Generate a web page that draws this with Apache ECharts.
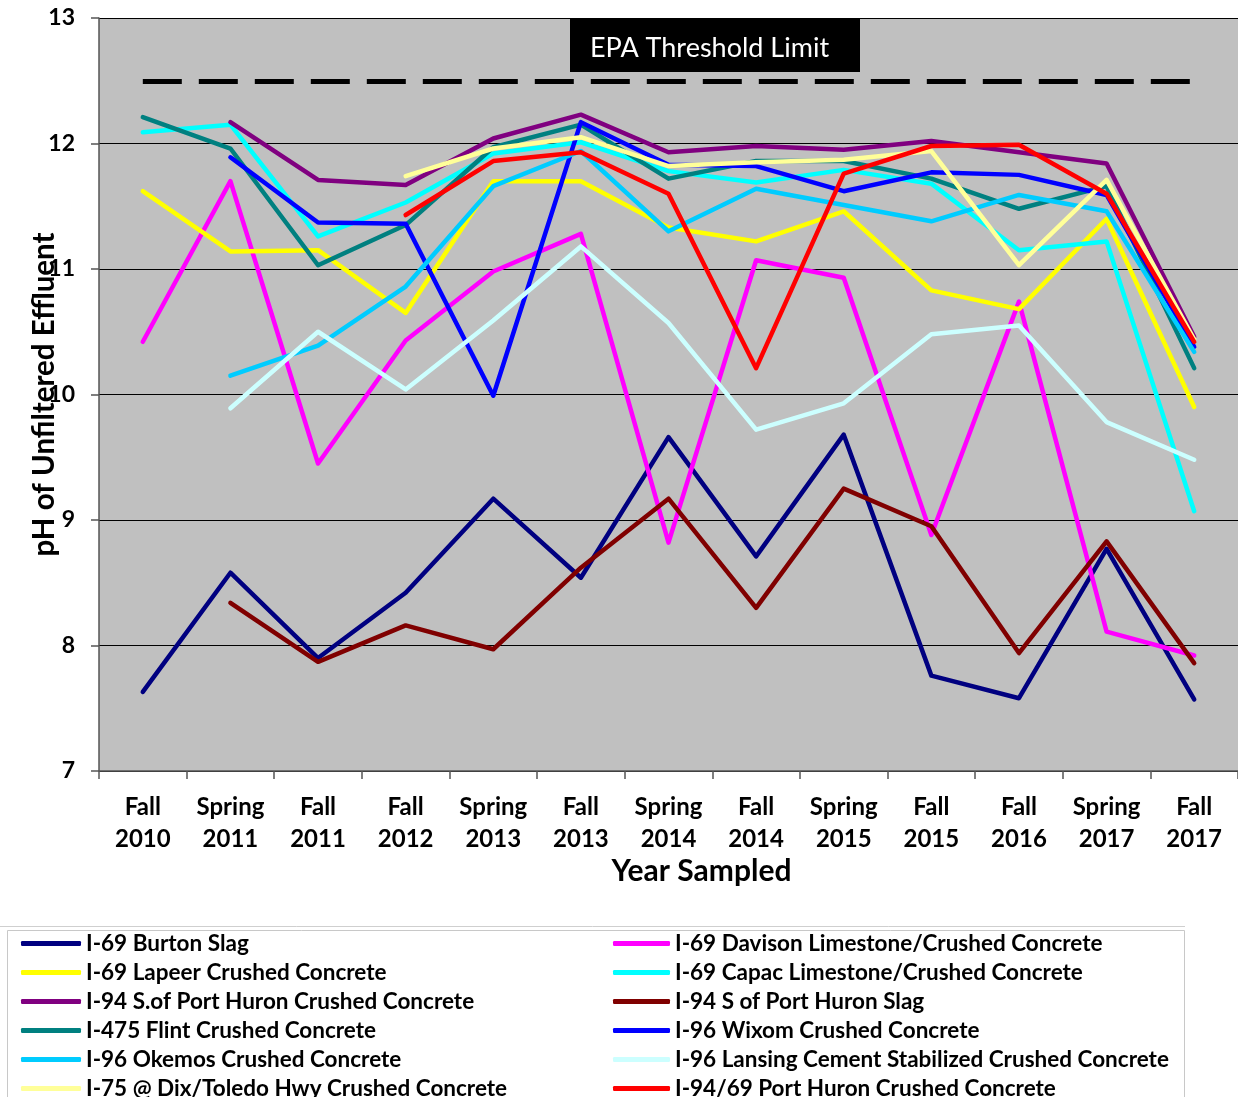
<!DOCTYPE html>
<html>
<head>
<meta charset="utf-8">
<script src="https://cdn.jsdelivr.net/npm/echarts@6/dist/echarts.min.js"></script>
<style>
html,body{margin:0;padding:0;background:#fff;}
#chart{width:1238px;height:1097px;}
</style>
</head>
<body>
<div id="chart"></div>
<script>
const categories = ['Fall\n2010','Spring\n2011','Fall\n2011','Fall\n2012','Spring\n2013','Fall\n2013','Spring\n2014','Fall\n2014','Spring\n2015','Fall\n2015','Fall\n2016','Spring\n2017','Fall\n2017'];

const burtonSlag = [7.63, 8.58, 7.90, 8.42, 9.17, 8.54, 9.66, 8.71, 9.68, 7.76, 7.58, 8.77, 7.57];
const davison    = [10.42, 11.70, 9.45, 10.43, 10.98, 11.28, 8.82, 11.07, 10.93, 8.88, 10.74, 8.11, 7.92];
const lapeer     = [11.62, 11.14, 11.15, 10.65, 11.70, 11.70, 11.33, 11.22, 11.46, 10.83, 10.68, 11.40, 9.90];
const capac      = [12.09, 12.15, 11.26, 11.53, 11.92, 12.01, 11.78, 11.69, 11.79, 11.68, 11.15, 11.22, 9.07];
const i94CC      = [null, 12.17, 11.71, 11.67, 12.04, 12.23, 11.93, 11.98, 11.95, 12.02, 11.93, 11.84, 10.46];
const i94Slag    = [null, 8.34, 7.87, 8.16, 7.97, 8.62, 9.17, 8.30, 9.25, 8.95, 7.94, 8.83, 7.86];
const flint      = [12.21, 11.96, 11.03, 11.35, 11.97, 12.15, 11.72, 11.86, 11.86, 11.72, 11.48, 11.66, 10.21];
const wixom      = [null, 11.89, 11.37, 11.36, 9.99, 12.17, 11.83, 11.82, 11.62, 11.77, 11.75, 11.59, 10.38];
const okemos     = [null, 10.15, 10.39, 10.86, 11.66, 11.94, 11.30, 11.64, 11.51, 11.38, 11.59, 11.46, 10.34];
const lansing    = [null, 9.89, 10.50, 10.04, 10.59, 11.18, 10.57, 9.72, 9.93, 10.48, 10.55, 9.78, 9.48];
const dixToledo  = [null, null, null, 11.74, 11.96, 12.05, 11.82, 11.85, 11.87, 11.94, 11.03, 11.71, 10.44];
const portHuron  = [null, null, null, 11.43, 11.86, 11.93, 11.60, 10.21, 11.76, 11.98, 11.99, 11.60, 10.42];

const epaLimit = 12.5;
const epaLabel = 'EPA Threshold Limit';

const seriesNames = [
  'I-69 Burton Slag',
  'I-69 Davison Limestone/Crushed Concrete',
  'I-69 Lapeer Crushed Concrete',
  'I-69 Capac Limestone/Crushed Concrete',
  'I-94 S.of Port Huron Crushed Concrete',
  'I-94 S of Port Huron Slag',
  'I-475 Flint Crushed Concrete',
  'I-96 Wixom Crushed Concrete',
  'I-96 Okemos Crushed Concrete',
  'I-96 Lansing Cement Stabilized Crushed Concrete',
  'I-75 @ Dix/Toledo Hwy Crushed Concrete',
  'I-94/69 Port Huron Crushed Concrete'
];
const seriesData = [burtonSlag, davison, lapeer, capac, i94CC, i94Slag, flint, wixom, okemos, lansing, dixToledo, portHuron];
const seriesColors = ['#000080','#FF00FF','#FFFF00','#00FFFF','#800080','#800000','#008080','#0000FF','#00CCFF','#CCFFFF','#FFFF99','#FF0000'];

const FONT = 'Lato';

const series = seriesNames.map((name, i) => ({
  name: name,
  type: 'line',
  data: seriesData[i],
  symbol: 'none',
  connectNulls: false,
  color: seriesColors[i],
  lineStyle: { width: 4.5, color: seriesColors[i], cap: 'round', join: 'round' },
  emphasis: { disabled: true },
  z: 3 + i
}));

series.push({
  name: 'EPA',
  type: 'line',
  data: [],
  silent: true,
  markLine: {
    silent: true,
    symbol: 'none',
    label: { show: false },
    lineStyle: { color: '#000', width: 5, type: [39, 17], cap: 'butt' },
    emphasis: { disabled: true },
    data: [[{ coord: [0, epaLimit] }, { coord: [categories.length - 1, epaLimit] }]]
  }
});

const legendCommon = {
  orient: 'vertical',
  top: 932,
  height: 200,
  padding: 0,
  itemWidth: 60,
  itemHeight: 5,
  itemGap: 6,
  icon: 'roundRect',
  selectedMode: false,
  textStyle: { fontFamily: FONT, fontSize: 22.5, fontWeight: 'bold', color: '#000', lineHeight: 22 }
};

const chart = echarts.init(document.getElementById('chart'), null, { renderer: 'canvas' });
chart.setOption({
  animation: false,
  backgroundColor: '#fff',
  graphic: [
    { type: 'line', shape: { x1: 0, y1: 926.5, x2: 1185, y2: 926.5 }, style: { stroke: '#cfcfcf', lineWidth: 1 }, z: 0 },
    { type: 'rect', shape: { x: 7.5, y: 930.5, width: 1177, height: 180 }, style: { fill: '#fff', stroke: '#c8c8c8', lineWidth: 1 }, z: 0 },
    {
      type: 'group', left: 570, top: 18, z: 100,
      children: [
        { type: 'rect', shape: { x: 0, y: 0, width: 290, height: 54 }, style: { fill: '#000' } },
        { type: 'text', x: 139.5, y: 30, style: { text: epaLabel, fill: '#fff', font: '27px ' + FONT, textAlign: 'center', textVerticalAlign: 'middle' } }
      ]
    }
  ],
  grid: {
    left: 99, right: 0, top: 18, bottom: 326,
    show: true, backgroundColor: '#C0C0C0', borderWidth: 0
  },
  legend: [
    Object.assign({}, legendCommon, { left: 21, data: seriesNames.filter((n, i) => i % 2 === 0) }),
    Object.assign({}, legendCommon, { left: 613, itemWidth: 57, data: seriesNames.filter((n, i) => i % 2 === 1) })
  ],
  xAxis: {
    type: 'category',
    data: categories,
    boundaryGap: true,
    name: 'Year Sampled',
    nameLocation: 'middle',
    nameGap: 85,
    nameMoveOverlap: false,
    nameTextStyle: { fontFamily: FONT, fontSize: 30, fontWeight: 'bold', color: '#000', padding: [0, 0, 0, 66] },
    axisLine: { lineStyle: { color: '#555', width: 1.5 } },
    axisTick: { show: true, length: 8, lineStyle: { color: '#555', width: 1.5 } },
    axisLabel: { fontFamily: FONT, fontSize: 24, fontWeight: 'bold', color: '#000', lineHeight: 32, margin: 20, interval: 0 },
    splitLine: { show: false }
  },
  yAxis: {
    type: 'value',
    min: 7, max: 13, interval: 1,
    name: 'pH of Unfiltered Effluent',
    nameLocation: 'middle',
    nameGap: 40,
    nameMoveOverlap: false,
    nameRotate: 90,
    nameTextStyle: { fontFamily: FONT, fontSize: 29.5, fontWeight: 'bold', color: '#000' },
    axisLine: { show: true, lineStyle: { color: '#555', width: 1.5 } },
    axisTick: { show: true, length: 8, lineStyle: { color: '#555', width: 1.5 } },
    axisLabel: { fontFamily: FONT, fontSize: 23, fontWeight: 'bold', color: '#000', margin: 24 },
    splitLine: { show: true, lineStyle: { color: '#000', width: 1.2 } }
  },
  series: series
});
</script>
</body>
</html>
